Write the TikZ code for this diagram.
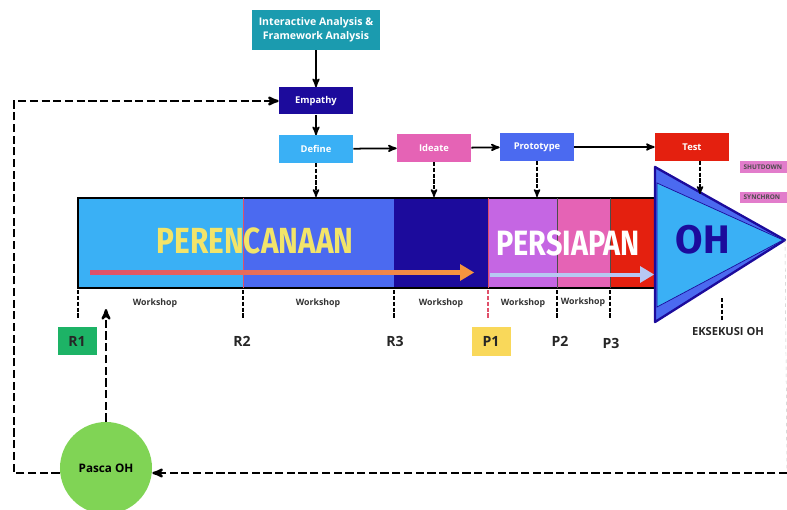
\documentclass[tikz,border=0pt]{standalone}
\usepackage{fontspec}
\usepackage{graphicx}
\setmainfont{Open Sans}
\newfontfamily\bigfont{Fira Sans}
\usetikzlibrary{arrows,shapes}
\definecolor{tealbox}{HTML}{1B9BAF}
\definecolor{navy}{HTML}{1C0B9C}
\definecolor{skyb}{HTML}{3AB0F5}
\definecolor{pinkc}{HTML}{E563B5}
\definecolor{blueb}{HTML}{4B6AF0}
\definecolor{redc}{HTML}{E4200F}
\definecolor{violetc}{HTML}{C566E3}
\definecolor{yellowt}{HTML}{F2E46A}
\definecolor{greenr}{HTML}{1DB366}
\definecolor{yellowp}{HTML}{F9D85A}
\definecolor{greenp}{HTML}{80D455}
\definecolor{redpk}{HTML}{E0506A}
\definecolor{orangea}{HTML}{F5943F}
\definecolor{lavend}{HTML}{B7C8F2}
\definecolor{shut}{HTML}{E27CCB}

\begin{document}
\begin{tikzpicture}[x=0.03cm,y=-0.03cm,>=stealth',semithick,
    stage/.style={text=white,font=\bfseries\fontsize{8}{9}\selectfont,minimum width=2.22cm,minimum height=0.81cm,inner sep=0pt},
    loopline/.style={line width=2pt,dash pattern=on 7pt off 3pt},
    tickline/.style={line width=1.3pt,dash pattern=on 3.5pt off 1.5pt},
    ws/.style={font=\bfseries\fontsize{7.5}{8}\selectfont,text=black!80},
    milestone/.style={font=\bfseries\fontsize{12}{13}\selectfont,text=black!85},
    tag/.style={fill=shut,text=black!70,font=\bfseries\fontsize{5.5}{6}\selectfont,anchor=west,minimum height=0.33cm,minimum width=1.6cm,inner sep=2pt,text width=1.4cm}]
                \useasboundingbox (0,0) rectangle (787,510);
                % design thinking stages
                \node[stage,fill=tealbox,minimum width=3.84cm,minimum height=1.2cm,align=center,font=\bfseries\fontsize{9}{12}\selectfont](Frame)at(316, 30){Interactive Analysis \&\\Framework Analysis};
                \node[stage,fill=navy](Empathy)at(316, 101){Empathy};
                \node[stage,fill=skyb](Define)at(316, 149){Define};
                \node[stage,fill=pinkc](Ideate)at(434, 148){Ideate};
                \node[stage,fill=blueb](Prototype)at(537, 147){Prototype};
                \node[stage,fill=redc](Test)at(692, 147){Test};
                \path[->,line width=1.5pt](Frame) edge (Empathy)
                (Empathy) edge (Define)
                (Define) edge (Ideate)
                (Ideate) edge (Prototype)
                (Prototype) edge (Test);
                % timeline bar
                \fill[skyb] (78,198) rectangle (243,288);
                \fill[blueb] (243,198) rectangle (394,288);
                \fill[navy] (394,198) rectangle (488,288);
                \fill[violetc] (488,198) rectangle (557,288);
                \fill[pinkc] (557,198) rectangle (610,288);
                \fill[redc] (610,198) rectangle (655,288);
                \draw[line width=1.5pt] (78,198) rectangle (655,288);
                \draw[redpk,line width=0.5pt] (243,198) -- (243,288) (488,198) -- (488,288);
                \draw[black!70,line width=0.5pt] (557,198) -- (557,288) (610,198) -- (610,288);
                \shade[left color=redpk,right color=orangea] (90,270.5) rectangle (462,274.5);
                \fill[orangea] (460,264) -- (474,272.5) -- (460,281) -- cycle;
                \fill[lavend] (490,272.5) rectangle (642,276.5);
                \fill[lavend] (640,266) -- (654,274.5) -- (640,283) -- cycle;
                \node[text=yellowt,font=\bigfont\bfseries\fontsize{31}{32}\selectfont](Plan)at(255, 241){\scalebox{0.82}[1]{PERENCANAAN}};
                \node[text=white,font=\bigfont\bfseries\fontsize{30}{32}\selectfont](Prep)at(568, 243){\scalebox{0.82}[1]{PERSIAPAN}};
                % execution arrow head
                \filldraw[fill=blueb,draw=navy,line width=2pt,line join=round] (655,167) -- (785,240) -- (655,322) -- cycle;
                \filldraw[fill=skyb,draw=navy,line width=0.6pt] (657,183) -- (783,240) -- (657,307) -- cycle;
                \node[text=navy,font=\bigfont\bfseries\fontsize{34}{36}\selectfont](OH)at(703, 240){OH};
                \coordinate (tip) at (785, 240);
                % inputs into the bar
                \coordinate (inDefine) at (316, 197);
                \coordinate (inIdeate) at (434, 197);
                \coordinate (inProto) at (537, 197);
                \coordinate (inTest) at (700, 194);
                \path[->,tickline](Define) edge (inDefine)
                (Ideate) edge (inIdeate)
                (Prototype) edge (inProto)
                (Test.south -| inTest) edge (inTest);
                % milestones
                \foreach \x in {78,243,394,557,610}
                    \draw[tickline] (\x,290) -- (\x,318);
                \draw[tickline,redpk] (488,290) -- (488,318);
                \draw[tickline] (722,298) -- (722,320);
                \node[ws](W1)at(155, 303){Workshop};
                \node[ws](W2)at(318, 303){Workshop};
                \node[ws](W3)at(441, 303){Workshop};
                \node[ws](W4)at(523, 303){Workshop};
                \node[ws](W5)at(583, 302){Workshop};
                \node[milestone,fill=greenr,minimum width=1.17cm,minimum height=0.84cm](R1)at(77, 341){R1};
                \node[milestone](R2)at(242, 341){R2};
                \node[milestone](R3)at(395, 341){R3};
                \node[milestone,fill=yellowp,minimum width=1.17cm,minimum height=0.87cm](P1)at(491, 341){P1};
                \node[milestone](P2)at(560, 341){P2};
                \node[milestone](P3)at(611, 343){P3};
                \node[font=\bfseries\fontsize{9.5}{10}\selectfont,text=black!85](Exec)at(728, 332){EKSEKUSI OH};
                \node[tag](Shut)at(740, 167){SHUTDOWN};
                \node[tag](Sync)at(740, 197){SYNCHRON};
                % after execution loop
                \node[shape=circle,fill=greenp,minimum size=2.76cm,inner sep=0pt,font=\bfseries\fontsize{10}{11}\selectfont](Pasca)at(106, 468){Pasca OH};
                \coordinate (up) at (106, 309);
                \coordinate (cornerL) at (14, 101);
                \coordinate (rightEnd) at (787, 473);
                \draw[gray!45,thin,dashed] (tip) -- (rightEnd);
                \draw[->,loopline] (Pasca.west |- rightEnd) -| (cornerL) -- (Empathy.west);
                \draw[->,loopline] (Pasca.north) -- (up);
                \draw[->,loopline] (rightEnd) -- (Pasca.east |- rightEnd);
\end{tikzpicture}
\end{document}
